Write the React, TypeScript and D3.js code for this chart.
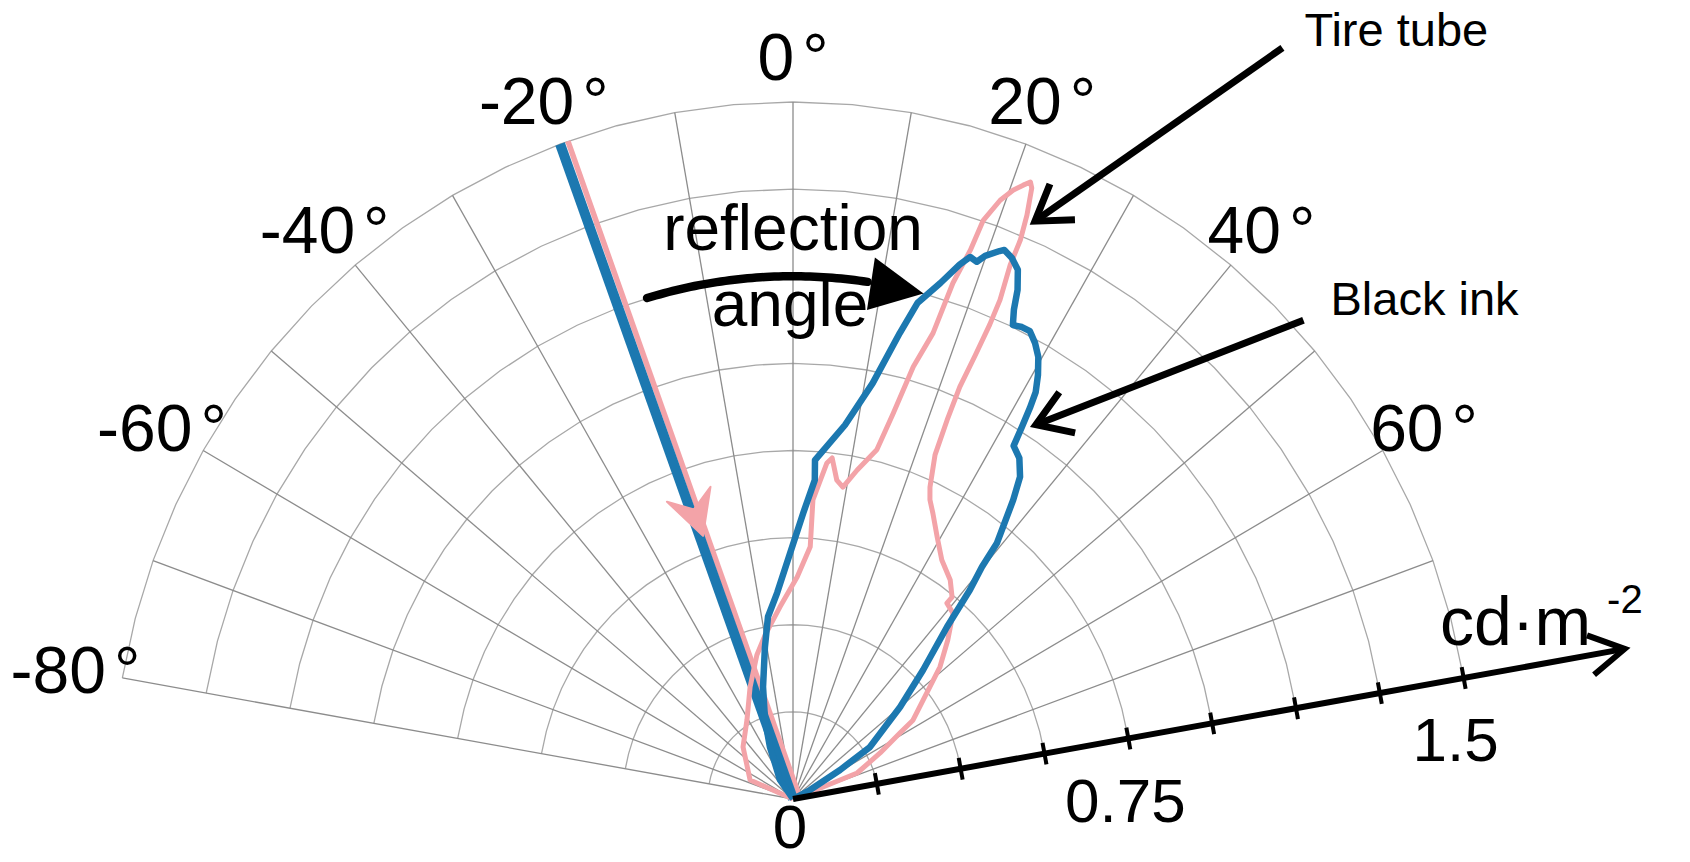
import React from "react";
import * as d3 from "d3";

const WIDTH = 1690;
const HEIGHT = 862;

// Polar grid: spokes every 10°, rings every 0.1875 cd·m^-2
const spokeAngles = d3.range(-80, 81, 10);
const angleLabels = [-80, -60, -40, -20, 0, 20, 40, 60];
const ringValues = [0.1875, 0.375, 0.5625, 0.75, 0.9375, 1.125, 1.3125, 1.5];
const axisLabels = [0.75, 1.5];
const radialMax = 1.5;
const axisAngle = 80;
const axisEnd = 1.86;

// Incident beam (degrees, cd·m^-2)
const incidentAngle = -20;
const incidentValue = 1.5;
const tubeIncidentAngle = -19.3;
const tubeIncidentFoot: [number, number] = [70, 0.015];
const incidentArrowValue = 0.6;

// Reflection lobes as [angle in degrees, luminance in cd·m^-2]
const blackInk: [number, number][] = [
  [0, 0], [-35, 0.05], [-24.4, 0.123], [-19.9, 0.181], [-15.3, 0.25], [-10.7, 0.333],
  [-8, 0.396], [-4.5, 0.445], [-0.7, 0.529], [2.1, 0.616], [4, 0.688], [3.8, 0.731],
  [8.1, 0.813], [11.1, 0.912], [13.2, 1.03], [14.4, 1.102], [16.3, 1.157], [17.7, 1.207],
  [18.5, 1.23], [19.3, 1.225], [19.9, 1.243], [21.1, 1.264], [21.5, 1.27], [22.5, 1.26],
  [23.5, 1.242], [24.3, 1.202], [24.8, 1.16], [25.4, 1.129], [26.4, 1.134], [27.4, 1.134],
  [28.5, 1.117], [29.6, 1.094], [30.6, 1.06], [31.4, 1.026], [31.8, 0.99], [32.2, 0.946],
  [32.6, 0.902], [34.2, 0.887], [35.8, 0.855], [37, 0.806], [39.2, 0.711], [39.8, 0.65],
  [40.9, 0.595], [42.5, 0.502], [45.9, 0.399], [50, 0.308], [56.6, 0.203], [58.9, 0.121],
  [62.7, 0.042], [0, 0],
];

const tireTube: [number, number][] = [
  [0, 0], [-66.6, 0.103], [-44.5, 0.157], [-30.8, 0.198], [-21.4, 0.259], [-14.4, 0.32],
  [-9.9, 0.358], [-4, 0.414], [1.1, 0.478], [4, 0.544], [3.9, 0.645], [5.9, 0.727],
  [6.7, 0.739], [8, 0.693], [9.3, 0.68], [11.3, 0.722], [13.8, 0.774], [14.9, 0.859],
  [15.9, 0.967], [17.1, 1.049], [17.6, 1.165], [18.3, 1.244], [18.6, 1.314], [19.5, 1.367],
  [20.3, 1.397], [21, 1.415], [21.5, 1.427], [21.8, 1.416], [22.3, 1.358], [22.6, 1.303],
  [22.6, 1.245], [23, 1.167], [23, 1.109], [22.8, 1.036], [22.5, 0.96], [22.6, 0.883],
  [22.9, 0.804], [24.2, 0.736], [25.1, 0.711], [26.6, 0.688], [29.4, 0.647], [32.5, 0.61],
  [36.3, 0.585], [38.9, 0.558], [38.8, 0.541], [41.4, 0.533], [44.9, 0.483], [48.7, 0.431],
  [53.4, 0.357], [57.3, 0.314], [58.9, 0.275], [62.7, 0.216], [68.4, 0.152], [68.7, 0.071],
  [0, 0],
];

// Annotation anchors in polar coordinates
const reflectionArc = { from: -16.6, to: 8.8, tip: 14.8, value: 1.125 };
const tubeCallout = { start: [33.7, 1.943] as [number, number], tip: [23.2, 1.353] as [number, number] };
const inkCallout = { start: [47.5, 1.525] as [number, number], tip: [33.6, 0.967] as [number, number] };

const BLUE = "#1c78b0";
const PINK = "#f3a3a8";
const FONT = "'Liberation Sans', Arial, Helvetica, sans-serif";

export default function App() {
  const cx = 793;
  const cy = 799;
  const rx = d3.scaleLinear().domain([0, radialMax]).range([0, 681]);
  const ry = d3.scaleLinear().domain([0, radialMax]).range([0, 697]);
  const rad = (a: number) => (a * Math.PI) / 180;
  const X = (a: number, v: number) => cx + rx(v) * Math.sin(rad(a));
  const Y = (a: number, v: number) => cy - ry(v) * Math.cos(rad(a));
  const polarLine = d3
    .line<[number, number]>()
    .x((d) => X(d[0], d[1]))
    .y((d) => Y(d[0], d[1]));

  const ringAngles = d3.range(-80, 80.001, 5);

  // radial axis direction (pixel space)
  const ax = X(axisAngle, 1) - cx;
  const ay = Y(axisAngle, 1) - cy;
  const alen = Math.hypot(ax, ay);
  const ux = ax / alen;
  const uy = ay / alen;
  const nx = -uy;
  const ny = ux;
  const axTipX = X(axisAngle, axisEnd);
  const axTipY = Y(axisAngle, axisEnd);

  const vHead = (tx: number, ty: number, dx: number, dy: number, len: number, half: number) => {
    const l = Math.hypot(dx, dy);
    const bx = -dx / l;
    const by = -dy / l;
    const r1 = rad(half);
    const p1 = [tx + len * (bx * Math.cos(r1) - by * Math.sin(r1)), ty + len * (bx * Math.sin(r1) + by * Math.cos(r1))];
    const p2 = [tx + len * (bx * Math.cos(-r1) - by * Math.sin(-r1)), ty + len * (bx * Math.sin(-r1) + by * Math.cos(-r1))];
    return `M${p1[0]},${p1[1]}L${tx},${ty}L${p2[0]},${p2[1]}`;
  };

  // incident arrowhead on the tire tube beam
  const iTipX = X(tubeIncidentAngle, incidentArrowValue);
  const iTipY = Y(tubeIncidentAngle, incidentArrowValue);
  const idx = iTipX - X(tubeIncidentAngle, 1);
  const idy = iTipY - Y(tubeIncidentAngle, 1);
  const il = Math.hypot(idx, idy);
  const idX = idx / il;
  const idY = idy / il;
  const inX = -idY;
  const inY = idX;
  const incidentHead = [
    [iTipX, iTipY],
    [iTipX - 44 * idX + 23 * inX, iTipY - 44 * idY + 23 * inY],
    [iTipX - 28 * idX, iTipY - 28 * idY],
    [iTipX - 44 * idX - 23 * inX, iTipY - 44 * idY - 23 * inY],
  ];

  // curved "reflection angle" arrow
  const arcPts: [number, number][] = d3
    .range(reflectionArc.from, reflectionArc.to + 0.001, 0.5)
    .map((a) => [a, reflectionArc.value]);
  const headBase = reflectionArc.to;
  const arcHead = [
    [X(headBase, reflectionArc.value + 0.054), Y(headBase, reflectionArc.value + 0.054)],
    [X(reflectionArc.tip, reflectionArc.value), Y(reflectionArc.tip, reflectionArc.value)],
    [X(headBase, reflectionArc.value - 0.06), Y(headBase, reflectionArc.value - 0.06)],
  ];

  const callout = (c: { start: [number, number]; tip: [number, number] }) => {
    const sx = X(c.start[0], c.start[1]);
    const sy = Y(c.start[0], c.start[1]);
    const tx = X(c.tip[0], c.tip[1]);
    const ty = Y(c.tip[0], c.tip[1]);
    return { sx, sy, tx, ty, head: vHead(tx, ty, tx - sx, ty - sy, 40, 33) };
  };
  const tube = callout(tubeCallout);
  const ink = callout(inkCallout);

  return (
    <svg
      width={WIDTH}
      height={HEIGHT}
      viewBox={`0 0 ${WIDTH} ${HEIGHT}`}
      style={{ position: "absolute", left: 0, top: 0, background: "#fff", display: "block" }}
      fontFamily={FONT}
    >
      <rect x={0} y={0} width={WIDTH} height={HEIGHT} fill="#fff" />

      {/* rings */}
      <g fill="none" stroke="#a8a8a8" strokeWidth={1.3}>
        {ringValues.map((v) => (
          <path key={v} d={polarLine(ringAngles.map((a) => [a, v] as [number, number])) || ""} />
        ))}
      </g>
      {/* spokes */}
      <g stroke="#8c8c8c" strokeWidth={1.3}>
        {spokeAngles.map((a) => (
          <line key={a} x1={cx} y1={cy} x2={X(a, radialMax)} y2={Y(a, radialMax)} />
        ))}
      </g>

      {/* angle labels */}
      <g fontSize={66} fill="#000" textAnchor="middle">
        {angleLabels.map((a) => (
          <text key={a} x={X(a, radialMax * 1.07)} y={Y(a, radialMax * 1.065)} dominantBaseline="central">
            {`${a}`}
            <tspan dx={8}>°</tspan>
          </text>
        ))}
      </g>

      {/* incident beams */}
      <path
        d={polarLine([[tubeIncidentAngle, incidentValue], tubeIncidentFoot]) || ""}
        stroke={PINK}
        strokeWidth={5.5}
        fill="none"
      />
      <path
        d={polarLine([[incidentAngle, incidentValue], [0, 0]]) || ""}
        stroke={BLUE}
        strokeWidth={10}
        fill="none"
      />
      <path d={`M${incidentHead.map((p) => p.join(",")).join("L")}Z`} fill={PINK} stroke={PINK} strokeWidth={2} strokeLinejoin="round" />

      {/* reflection lobes */}
      <path
        d={polarLine(tireTube) || ""}
        stroke={PINK}
        strokeWidth={5}
        fill="none"
        strokeLinejoin="round"
      />
      <path
        d={polarLine(blackInk) || ""}
        stroke={BLUE}
        strokeWidth={6.5}
        fill="none"
        strokeLinejoin="round"
      />

      {/* reflection angle annotation */}
      <g fill="#000" fontSize={64} textAnchor="middle">
        <text x={X(0, 1.5)} y={250}>reflection</text>
        <text x={X(0, 1.5) - 3} y={326}>angle</text>
      </g>
      <path d={polarLine(arcPts) || ""} stroke="#000" strokeWidth={8.5} fill="none" strokeLinecap="round" />
      <path d={`M${arcHead.map((p) => p.join(",")).join("L")}Z`} fill="#000" />

      {/* radial axis */}
      <g stroke="#000" fill="none" strokeLinecap="butt">
        <line x1={cx} y1={cy} x2={axTipX} y2={axTipY} strokeWidth={6} />
        <path d={vHead(axTipX, axTipY, ux, uy, 40, 30)} strokeWidth={6} strokeLinejoin="miter" />
        {ringValues.map((v) => {
          const tx = X(axisAngle, v);
          const ty = Y(axisAngle, v);
          return <line key={v} x1={tx - nx * 11} y1={ty - ny * 11} x2={tx + nx * 11} y2={ty + ny * 11} strokeWidth={4} />;
        })}
      </g>
      <g fill="#000" fontSize={62} textAnchor="middle">
        <text x={cx - 3} y={848}>0</text>
        {axisLabels.map((v, i) => (
          <text key={v} x={X(axisAngle, v) - 3 - i * 5} y={Y(axisAngle, v) + 62} dominantBaseline="central">
            {`${v}`}
          </text>
        ))}
      </g>
      <text x={1440} y={645} fontSize={68} fill="#000">
        cd·m
        <tspan fontSize={40} dy={-32} dx={16}>-2</tspan>
      </text>

      {/* callouts */}
      <g stroke="#000" strokeWidth={7} fill="none">
        <line x1={tube.sx} y1={tube.sy} x2={tube.tx} y2={tube.ty} />
        <path d={tube.head} strokeLinejoin="miter" />
        <line x1={ink.sx} y1={ink.sy} x2={ink.tx} y2={ink.ty} />
        <path d={ink.head} strokeLinejoin="miter" />
      </g>
      <g fill="#000" fontSize={47}>
        <text x={tube.sx + 22} y={tube.sy - 2}>Tire tube</text>
        <text x={ink.sx + 27} y={ink.sy - 5}>Black ink</text>
      </g>
    </svg>
  );
}
